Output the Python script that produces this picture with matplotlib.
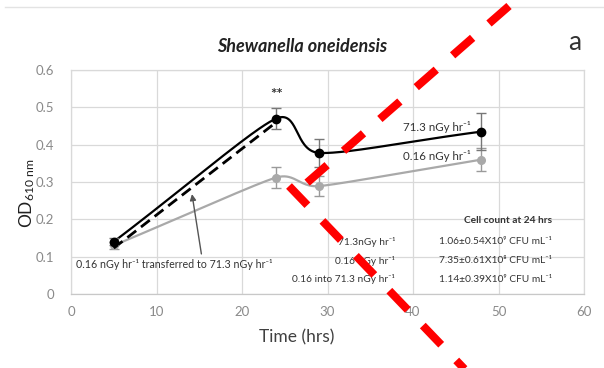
import numpy as np
import matplotlib
matplotlib.use("Agg")
import matplotlib.pyplot as plt
from matplotlib.lines import Line2D

plt.rcParams['font.family'] = ['Lato', 'DejaVu Sans']
plt.rcParams['mathtext.fontset'] = 'custom'
plt.rcParams['mathtext.rm'] = 'Lato'
plt.rcParams['mathtext.it'] = 'Lato:italic'

# ---- data ----
time = [5, 24, 29, 48]
od_713 = [0.14, 0.47, 0.378, 0.435]
err_713 = [0.01, 0.028, 0.037, 0.05]
od_016 = [0.13, 0.312, 0.289, 0.36]
err_016 = [0.01, 0.028, 0.026, 0.03]
transfer_time = [5, 24]
od_transfer = [0.123, 0.46]

x_ticks = [0, 10, 20, 30, 40, 50, 60]
y_ticks = [0, 0.1, 0.2, 0.3, 0.4, 0.5, 0.6]

table_rows = ["71.3nGy hr⁻¹", "0.16 nGy hr⁻¹", "0.16 into 71.3 nGy hr⁻¹"]
table_vals = ["1.06±0.54X10⁹ CFU mL⁻¹", "7.35±0.61X10⁸ CFU mL⁻¹", "1.14±0.39X10⁹ CFU mL⁻¹"]

W, H = 604, 368
fig = plt.figure(figsize=(W / 100, H / 100), dpi=100)
L, R, T, B = 71, 584, 70, 294
ax = fig.add_axes([L / W, 1 - B / H, (R - L) / W, (B - T) / H])
ax.set_xlim(0, 60)
ax.set_ylim(0, 0.6)


def smooth(xd, yd, n=60, k=0.45):
    # smoothed line (Bezier) computed in pixel space; control arms limited by
    # the shorter neighbouring segment
    px = np.array(xd) / 60 * (R - L)
    py = np.array(yd) / 0.6 * (B - T)
    P = np.column_stack([px, py])
    npt = len(P)
    seglen = [np.linalg.norm(P[i + 1] - P[i]) for i in range(npt - 1)]

    def unit(v):
        return v / np.linalg.norm(v)

    tang, arm = [], []
    for i in range(npt):
        a = P[i - 1] if i > 0 else P[i]
        b = P[i + 1] if i < npt - 1 else P[i]
        tang.append(unit(b - a))
        ls = []
        if i > 0:
            ls.append(seglen[i - 1])
        if i < npt - 1:
            ls.append(seglen[i])
        arm.append(min(ls) * k)
    out = []
    for i in range(npt - 1):
        p1, p2 = P[i], P[i + 1]
        d = seglen[i]
        c1 = p1 + tang[i] * min(arm[i], d * k)
        c2 = p2 - tang[i + 1] * min(arm[i + 1], d * k)
        t = np.linspace(0, 1, n)[:, None]
        seg = ((1 - t) ** 3) * p1 + 3 * ((1 - t) ** 2) * t * c1 + 3 * (1 - t) * t ** 2 * c2 + t ** 3 * p2
        out.append(seg)
    S = np.vstack(out)
    return S[:, 0] / (R - L) * 60, S[:, 1] / (B - T) * 0.6


gray = '#a9a9a9'
sx, sy = smooth(time, od_016)
ax.plot(sx, sy, color=gray, lw=1.6, zorder=3)
ax.errorbar(time, od_016, yerr=err_016, fmt='o', color=gray, ms=5.5,
            ecolor='#9a9a9a', elinewidth=1, capsize=3.5, capthick=1, zorder=4)

ax.plot(transfer_time, od_transfer, color='black', lw=2, dashes=(4, 2.2), zorder=5)

sx, sy = smooth(time, od_713)
ax.plot(sx, sy, color='black', lw=1.6, zorder=5)
ax.errorbar(time, od_713, yerr=err_713, fmt='o', color='black', ms=6,
            ecolor='#777777', elinewidth=1, capsize=3.5, capthick=1, zorder=6)

# axes style
ax.set_xticks(x_ticks)
ax.set_yticks(y_ticks)
ax.set_yticklabels([f"{v:g}" for v in y_ticks])
ax.grid(True, color='#d9d9d9', lw=0.9)
ax.set_axisbelow(True)
for s in ax.spines.values():
    s.set_color('#d9d9d9')
    s.set_linewidth(0.9)
ax.spines['bottom'].set_color('#c8c8c8')
ax.tick_params(length=0, labelsize=9.5, labelcolor='#8a8a8a')
ax.tick_params(axis='x', pad=9)
ax.tick_params(axis='y', pad=12)

ax.set_xlabel('Time (hrs)', fontsize=12.5, color='#404040')
ax.xaxis.set_label_coords((297 - L) / (R - L), -(337 - B) / (B - T))
ax.xaxis.label.set_va('center')

fig.text(27 / W, 1 - 193 / H, r'OD$_{\mathregular{610\ nm}}$', rotation=90, ha='center',
         va='center', fontsize=12.5, color='#202020')

# annotations
ax.text(24, 0.515, '**', ha='center', va='bottom', fontsize=11, fontweight='bold', color='#333333')
ax.text(46.8, 0.447, '71.3 nGy hr⁻¹', ha='right', va='center', fontsize=8.3, color='#333333')
ax.text(46.8, 0.37, '0.16 nGy hr⁻¹', ha='right', va='center', fontsize=8.3, color='#333333')
ax.annotate('', xy=(14.1, 0.275), xytext=(15.3, 0.1),
            arrowprops=dict(arrowstyle='-|>', color='#555555', lw=1, mutation_scale=9))
ax.text(0.6, 0.08, '0.16 nGy hr⁻¹ transferred to 71.3 nGy hr⁻¹', ha='left', va='center',
        fontsize=7.7, color='#333333')

ax.text(56.3, 0.197, 'Cell count at 24 hrs', ha='right', va='center', fontsize=7.3,
        fontweight='bold', color='#333333')
row_y = [0.14, 0.089, 0.04]
for lab, val, yy in zip(table_rows, table_vals, row_y):
    ax.text(37.9, yy, lab, ha='right', va='center', fontsize=7.3, color='#333333')
    ax.text(56.3, yy, val, ha='right', va='center', fontsize=7.3, color='#333333')

fig.text(302 / W, 1 - 47 / H, 'Shewanella oneidensis', ha='center', va='center',
         fontsize=13, fontweight='bold', fontstyle='italic', color='#222222')
fig.text(575 / W, 1 - 43 / H, 'a', ha='center', va='center', fontsize=19, color='#333333')

# faint chart border
fig.add_artist(Line2D([5 / W, 1], [1 - 7 / H, 1 - 7 / H], transform=fig.transFigure,
                      color='#e3e3e3', lw=1))

# red dashed overlay lines
red_kw = dict(transform=fig.transFigure, color='#ff0000', lw=5.8, solid_capstyle='butt',
              dash_capstyle='butt', zorder=20)
l1 = Line2D([509 / W, 301 / W], [1 - 6 / H, 1 - 188 / H], dashes=(3.3, 2.7), **red_kw)
l2 = Line2D([289 / W, 475 / W], [1 - 186 / H, 1 - 380 / H], dashes=(3.3, 2.7), **red_kw)
fig.add_artist(l1)
fig.add_artist(l2)

fig.savefig('out.png', dpi=100)
